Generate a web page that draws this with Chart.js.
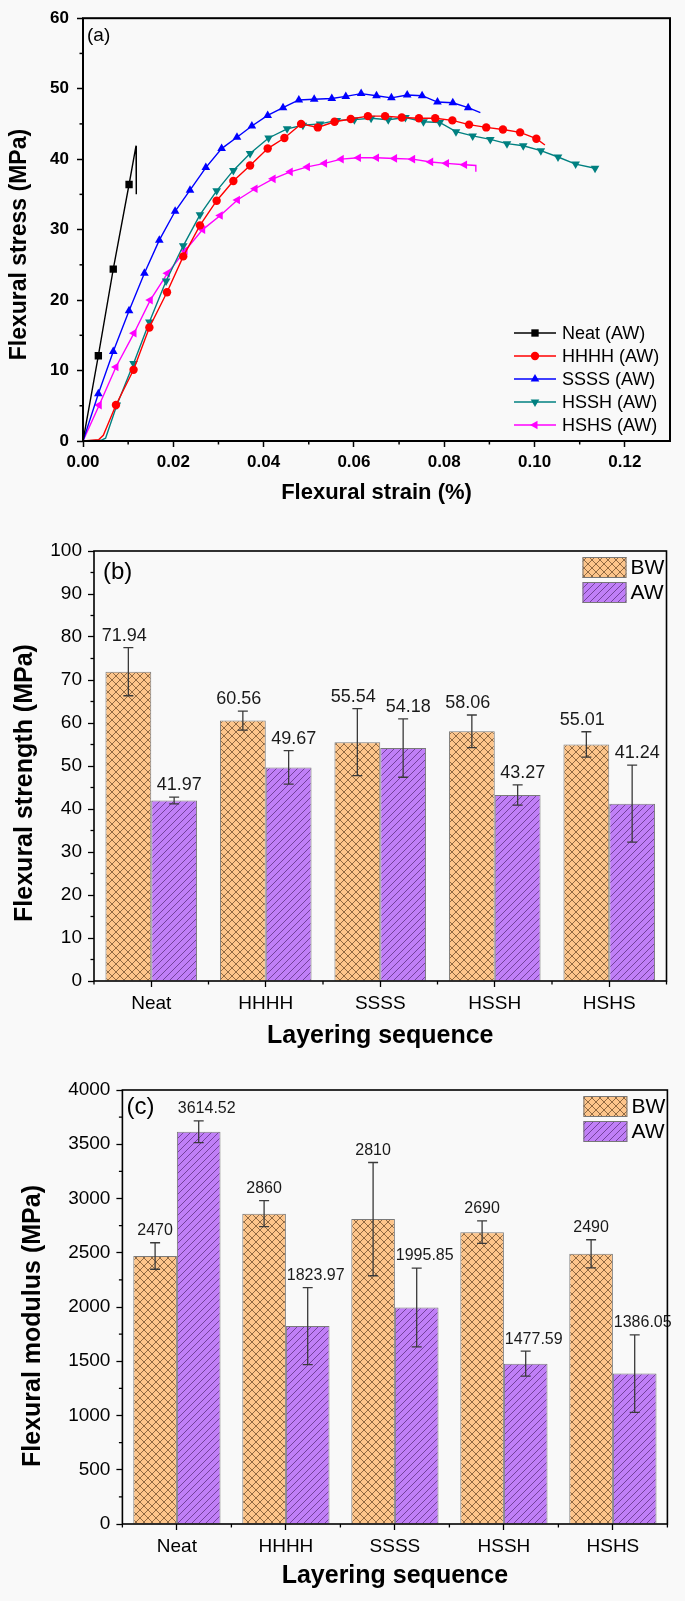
<!DOCTYPE html>
<html><head><meta charset="utf-8">
<script src="https://cdn.jsdelivr.net/npm/chart.js@4.4.0/dist/chart.umd.min.js"></script>
<style>
html,body{margin:0;padding:0;background:#f9f9f9;}
body{width:685px;height:1601px;position:relative;overflow:hidden;}
.wrap{position:absolute;left:0;width:685px;}
canvas{display:block;}
</style></head><body>
<div class="wrap" style="top:0;height:520px"><canvas id="ca"></canvas></div>
<div class="wrap" style="top:520px;height:530px"><canvas id="cb"></canvas></div>
<div class="wrap" style="top:1050px;height:551px"><canvas id="cc"></canvas></div>
<script>
// ---------- data: (a) stress-strain curves ----------
const neatStrain = [0, 0.0034, 0.0067, 0.0102, 0.01175, 0.0118];
const neatStress = [0, 12.1, 24.4, 36.4, 41.9, 35.0];
const hhhhStrain = [0, 0.0035, 0.0045, 0.0073, 0.0112, 0.0147, 0.0186, 0.0222, 0.0259, 0.0296, 0.0333, 0.0370, 0.0409, 0.0446, 0.0483, 0.0520, 0.0557, 0.0593, 0.0631, 0.0669, 0.0706, 0.0744, 0.0780, 0.0818, 0.0855, 0.0893, 0.0930, 0.0968, 0.1004, 0.1023];
const hhhhStress = [0, 0.2, 0.8, 5.1, 10.1, 16.1, 21.1, 26.2, 30.6, 34.1, 36.9, 39.1, 41.5, 43.0, 45.0, 44.5, 45.3, 45.7, 46.1, 46.1, 45.9, 45.8, 45.8, 45.5, 44.9, 44.5, 44.2, 43.8, 42.9, 42.0];
const ssssStrain = [0, 0.0034, 0.0067, 0.0102, 0.0136, 0.0169, 0.0204, 0.0237, 0.0272, 0.0307, 0.0341, 0.0374, 0.0409, 0.0443, 0.0478, 0.0512, 0.0551, 0.0582, 0.0616, 0.0650, 0.0683, 0.0718, 0.0751, 0.0785, 0.0819, 0.0853, 0.0880];
const ssssStress = [0, 6.7, 12.7, 18.5, 23.8, 28.5, 32.6, 35.6, 38.8, 41.5, 43.1, 44.7, 46.2, 47.3, 48.4, 48.5, 48.6, 48.9, 49.3, 49.0, 48.7, 49.1, 49.0, 48.1, 48.0, 47.3, 46.6];
const hsshStrain = [0, 0.0040, 0.0050, 0.0075, 0.0112, 0.0147, 0.0184, 0.0222, 0.0259, 0.0296, 0.0333, 0.0370, 0.0411, 0.0452, 0.0487, 0.0525, 0.0562, 0.0601, 0.0638, 0.0676, 0.0714, 0.0754, 0.0790, 0.0826, 0.0863, 0.0902, 0.0939, 0.0975, 0.1014, 0.1052, 0.1091, 0.1134];
const hsshStress = [0, 0.1, 0.4, 5.1, 11.0, 16.9, 22.7, 27.7, 32.1, 35.5, 38.4, 40.8, 43.0, 44.3, 44.8, 45.0, 45.5, 45.6, 45.8, 45.6, 45.9, 45.3, 45.2, 43.9, 43.3, 42.8, 42.2, 41.9, 41.2, 40.3, 39.3, 38.7];
const hshsStrain = [0, 0.0036, 0.0073, 0.0113, 0.0149, 0.0187, 0.0226, 0.0265, 0.0304, 0.0342, 0.0381, 0.0421, 0.0459, 0.0497, 0.0535, 0.0572, 0.0610, 0.0650, 0.0690, 0.0730, 0.0770, 0.0805, 0.0845, 0.0870, 0.0870];
const hshsStress = [0, 5.1, 10.5, 15.3, 20.0, 23.8, 27.0, 30.0, 32.0, 34.2, 35.8, 37.2, 38.2, 38.9, 39.4, 40.0, 40.2, 40.2, 40.1, 40.0, 39.6, 39.4, 39.2, 39.1, 38.2];
const strainTickValues = [0, 0.02, 0.04, 0.06, 0.08, 0.10, 0.12];
const strainTickLabels = ['0.00', '0.02', '0.04', '0.06', '0.08', '0.10', '0.12'];
const stressTickValues = [0, 10, 20, 30, 40, 50, 60];

// ---------- data: (b) and (c) bars ----------
const layers = ['Neat', 'HHHH', 'SSSS', 'HSSH', 'HSHS'];
const strengthBW = [71.94, 60.56, 55.54, 58.06, 55.01];
const strengthBWErr = [5.6, 2.2, 7.8, 3.8, 2.95];
const strengthAW = [41.97, 49.67, 54.18, 43.27, 41.24];
const strengthAWErr = [0.8, 3.9, 6.8, 2.35, 8.95];
const strengthTickValues = [0, 10, 20, 30, 40, 50, 60, 70, 80, 90, 100];
const modulusBW = [2470, 2860, 2810, 2690, 2490];
const modulusBWErr = [122, 120, 522, 103, 130];
const modulusAW = [3614.52, 1823.97, 1995.85, 1477.59, 1386.05];
const modulusAWErr = [100, 355, 363, 115, 357];
const modulusTickValues = [0, 500, 1000, 1500, 2000, 2500, 3000, 3500, 4000];

// ---------- styling ----------
const FONT = "'Liberation Sans', Arial, Helvetica, sans-serif";
Chart.defaults.font.family = FONT;
Chart.defaults.color = '#000';

function makePattern(bg, line, p, cross) {
  const c = document.createElement('canvas');
  c.width = p; c.height = p;
  const g = c.getContext('2d');
  g.fillStyle = bg; g.fillRect(0, 0, p, p);
  g.strokeStyle = line; g.lineWidth = 0.9;
  g.beginPath();
  g.moveTo(-1, p + 1); g.lineTo(p + 1, -1);
  g.moveTo(-1, 1); g.lineTo(1, -1);
  g.moveTo(p - 1, p + 1); g.lineTo(p + 1, p - 1);
  if (cross) {
    g.moveTo(-1, -1); g.lineTo(p + 1, p + 1);
    g.moveTo(p - 1, -1); g.lineTo(p + 1, 1);
    g.moveTo(-1, p - 1); g.lineTo(1, p + 1);
  }
  g.stroke();
  return g.createPattern(c, 'repeat');
}
const bwPattern = makePattern('#fdc58b', 'rgba(90,60,30,0.75)', 8, true);
const awPattern = makePattern('#c07ff7', 'rgba(70,30,100,0.7)', 7, false);

// ---------- plugins ----------
const framePlugin = {
  id: 'frame',
  afterDraw(chart, args, o) {
    const {ctx, chartArea: a} = chart;
    ctx.save();
    ctx.strokeStyle = '#000'; ctx.lineWidth = o.width || 1.5;
    ctx.strokeRect(a.left, a.top, a.right - a.left, a.bottom - a.top);
    ctx.lineWidth = o.tickWidth || 1.2;
    const ys = chart.scales.y, xs = chart.scales.x;
    (o.yMinor || []).forEach(v => {
      const py = ys.getPixelForValue(v);
      ctx.beginPath(); ctx.moveTo(a.left, py); ctx.lineTo(a.left - 3.5, py); ctx.stroke();
    });
    let xm = o.xMinor || [];
    if (o.categoryMinor) {
      const pxs = [];
      const n = xs.ticks.length;
      for (let i = 0; i <= n; i++) {
        if (i === 0) pxs.push(a.left);
        else if (i === n) pxs.push(a.right);
        else pxs.push((xs.getPixelForValue(i - 1) + xs.getPixelForValue(i)) / 2);
      }
      pxs.forEach(px => { ctx.beginPath(); ctx.moveTo(px, a.bottom); ctx.lineTo(px, a.bottom + 3.5); ctx.stroke(); });
    } else {
      xm.forEach(v => {
        const px = xs.getPixelForValue(v);
        ctx.beginPath(); ctx.moveTo(px, a.bottom); ctx.lineTo(px, a.bottom + 3.5); ctx.stroke();
      });
    }
    if (o.panel) {
      ctx.font = o.panel.font; ctx.fillStyle = '#000';
      ctx.textAlign = 'left'; ctx.textBaseline = 'middle';
      ctx.fillText(o.panel.text, a.left + o.panel.dx, a.top + o.panel.dy);
    }
    if (o.yTitle) {
      ctx.save();
      ctx.translate(o.yTitle.x, (a.top + a.bottom) / 2 + o.yTitle.dy);
      ctx.rotate(-Math.PI / 2);
      ctx.font = o.yTitle.font; ctx.fillStyle = '#000'; ctx.textAlign = 'center'; ctx.textBaseline = 'middle';
      ctx.fillText(o.yTitle.text, 0, 0);
      ctx.restore();
    }
    ctx.restore();
  }
};

const lineLegend = {
  id: 'lineLegend',
  afterDraw(chart, args, o) {
    if (!o.show) return;
    const {ctx} = chart;
    ctx.save();
    chart.data.datasets.forEach((ds, i) => {
      const y = o.y0 + i * o.pitch;
      ctx.strokeStyle = ds.borderColor; ctx.lineWidth = 1.5;
      ctx.beginPath(); ctx.moveTo(o.x0, y); ctx.lineTo(o.x1, y); ctx.stroke();
      ctx.fillStyle = ds.borderColor;
      Chart.helpers.drawPoint(ctx, {pointStyle: ds.pointStyle, rotation: ds.rotation, radius: ds.legendRadius, borderWidth: 0}, (o.x0 + o.x1) / 2, y);
      ctx.fillStyle = '#000'; ctx.font = o.font; ctx.textAlign = 'left'; ctx.textBaseline = 'middle';
      ctx.fillText(ds.label, o.x1 + 6, y + 1);
    });
    ctx.restore();
  }
};

const barExtras = {
  id: 'barExtras',
  afterDatasetsDraw(chart, args, o) {
    if (!o.show) return;
    const {ctx, chartArea: a} = chart;
    const ys = chart.scales.y;
    ctx.save();
    chart.data.datasets.forEach((ds, di) => {
      const meta = chart.getDatasetMeta(di);
      meta.data.forEach((bar, i) => {
        const v = ds.data[i], e = ds.errors[i];
        const top = ys.getPixelForValue(v + e), bot = ys.getPixelForValue(v - e);
        ctx.strokeStyle = '#3a3a3a'; ctx.lineWidth = 1.3;
        ctx.beginPath();
        ctx.moveTo(bar.x, top); ctx.lineTo(bar.x, bot);
        ctx.moveTo(bar.x - 5, top); ctx.lineTo(bar.x + 5, top);
        ctx.moveTo(bar.x - 5, bot); ctx.lineTo(bar.x + 5, bot);
        ctx.stroke();
        ctx.fillStyle = '#1a1a1a'; ctx.font = o.labelFont;
        ctx.textAlign = 'center'; ctx.textBaseline = 'middle';
        ctx.fillText(String(v), bar.x + o.labelDx[di], top - o.gap);
      });
    });
    chart.data.datasets.forEach((ds, di) => {
      const bx = a.right - o.legDx, by = a.top + o.legDy + di * 25;
      ctx.fillStyle = ds.backgroundColor;
      ctx.fillRect(bx, by, 44, 21);
      ctx.strokeStyle = '#777'; ctx.lineWidth = 1;
      ctx.strokeRect(bx + 0.5, by + 0.5, 43, 20);
      ctx.fillStyle = '#000'; ctx.font = o.legFont; ctx.textAlign = 'left'; ctx.textBaseline = 'middle';
      ctx.fillText(ds.label, bx + 48, by + 11);
    });
    ctx.restore();
  }
};

Chart.register(framePlugin, lineLegend, barExtras);

function pts(xs, ys) { return xs.map((x, i) => ({x: x, y: ys[i]})); }

const seriesA = [
  {label: 'Neat (AW)', xs: neatStrain, ys: neatStress, color: '#000000', style: 'rect', rot: 0, r: 5.2, m0: 1, m1: 3},
  {label: 'HHHH (AW)', xs: hhhhStrain, ys: hhhhStress, color: '#ff0000', style: 'circle', rot: 0, r: 4.2, m0: 3, m1: 28},
  {label: 'SSSS (AW)', xs: ssssStrain, ys: ssssStress, color: '#0000ff', style: 'triangle', rot: 0, r: 5, m0: 1, m1: 25},
  {label: 'HSSH (AW)', xs: hsshStrain, ys: hsshStress, color: '#008080', style: 'triangle', rot: 180, r: 5, m0: 3, m1: 31},
  {label: 'HSHS (AW)', xs: hshsStrain, ys: hshsStress, color: '#ff00ff', style: 'triangle', rot: 270, r: 5, m0: 1, m1: 22}
];

new Chart(document.getElementById('ca'), {
  type: 'scatter',
  data: {
    datasets: seriesA.map(s => ({
      label: s.label,
      data: pts(s.xs, s.ys),
      showLine: true,
      borderColor: s.color,
      backgroundColor: s.color,
      borderWidth: 1.4,
      pointStyle: s.style,
      rotation: s.rot,
      legendRadius: s.r,
      pointRadius: c => (c.dataIndex >= s.m0 && c.dataIndex <= s.m1) ? s.r : 0,
      pointBorderWidth: 0,
      pointBackgroundColor: s.color,
      tension: 0
    }))
  },
  options: {
    responsive: true, maintainAspectRatio: false, animation: false, events: [],
    layout: {padding: {top: 15, right: 15, left: 0, bottom: 0}},
    plugins: {
      legend: {display: false}, tooltip: {enabled: false},
      frame: {width: 2, tickWidth: 1.5,
        yMinor: [5, 15, 25, 35, 45, 55],
        xMinor: [0.01, 0.03, 0.05, 0.07, 0.09, 0.11],
        panel: {text: '(a)', font: '19px ' + FONT, dx: 4, dy: 18},
        yTitle: {text: 'Flexural stress (MPa)', font: 'bold 23px ' + FONT, x: 20, dy: 15}},
      lineLegend: {show: true, x0: 514, x1: 556, y0: 333, pitch: 23, font: '18px ' + FONT},
      barExtras: {show: false}
    },
    scales: {
      x: {
        type: 'linear', min: 0, max: 0.13,
        afterFit: s => { s.height = 79; },
        afterBuildTicks: s => { s.ticks = strainTickValues.map(v => ({value: v})); },
        ticks: {callback: (v, i) => strainTickLabels[i], font: {size: 17, weight: 'bold'}, padding: 5, maxRotation: 0, autoSkip: false},
        grid: {drawOnChartArea: false, tickLength: 6, tickColor: '#000', tickWidth: 1.5},
        border: {display: false},
        title: {display: true, text: 'Flexural strain (%)', font: {size: 22, weight: 'bold', lineHeight: 1}, padding: {top: 0, bottom: 16}}
      },
      y: {
        type: 'linear', min: 0, max: 60,
        afterFit: s => { s.width = 83; },
        afterBuildTicks: s => { s.ticks = stressTickValues.map(v => ({value: v})); },
        ticks: {callback: v => String(v), font: {size: 17, weight: 'bold'}, padding: 8},
        grid: {drawOnChartArea: false, tickLength: 6, tickColor: '#000', tickWidth: 1.5},
        border: {display: false}
      }
    }
  }
});

function barChart(id, bw, bwErr, aw, awErr, tickVals, yMax, cfg) {
  return new Chart(document.getElementById(id), {
    type: 'bar',
    data: {
      labels: layers,
      datasets: [
        {label: 'BW', data: bw, errors: bwErr, backgroundColor: bwPattern, borderColor: '#7a7a7a', borderWidth: 1},
        {label: 'AW', data: aw, errors: awErr, backgroundColor: awPattern, borderColor: '#7a7a7a', borderWidth: 1}
      ]
    },
    options: {
      responsive: true, maintainAspectRatio: false, animation: false, events: [],
      layout: {padding: {top: cfg.padTop, right: cfg.padRight, left: 0, bottom: 0}},
      datasets: {bar: {categoryPercentage: 0.8, barPercentage: 1.0}},
      plugins: {
        legend: {display: false}, tooltip: {enabled: false},
        frame: {width: 1.6, tickWidth: 1.3, yMinor: cfg.yMinor, categoryMinor: true,
          panel: {text: cfg.panel, font: '24px ' + FONT, dx: cfg.panelDx, dy: cfg.panelDy},
          yTitle: {text: cfg.yTitle, font: 'bold 25px ' + FONT, x: cfg.yTitleX, dy: cfg.yTitleDy}},
        lineLegend: {show: false},
        barExtras: {show: true, gap: 12, labelFont: cfg.labelFont, labelDx: cfg.labelDx, legDx: 84, legDy: 6, legFont: '21px ' + FONT}
      },
      scales: {
        x: {
          afterFit: s => { s.height = cfg.xHeight; },
          ticks: {font: {size: 19}, padding: 5},
          grid: {offset: false, drawOnChartArea: false, tickLength: 6, tickColor: '#000', tickWidth: 1.3},
          border: {display: false},
          title: {display: true, text: 'Layering sequence', font: {size: 25, weight: 'bold', lineHeight: 1}, padding: {top: 0, bottom: cfg.xTitlePad}}
        },
        y: {
          min: 0, max: yMax,
          afterFit: s => { s.width = cfg.yWidth; },
          afterBuildTicks: s => { s.ticks = tickVals.map(v => ({value: v})); },
          ticks: {callback: v => String(v), font: {size: 19}, padding: 6},
          grid: {drawOnChartArea: false, tickLength: 6, tickColor: '#000', tickWidth: 1.3},
          border: {display: false}
        }
      }
    }
  });
}

const minorB = []; for (let v = 5; v < 100; v += 10) minorB.push(v);
const minorC = []; for (let v = 250; v < 4000; v += 500) minorC.push(v);

barChart('cb', strengthBW, strengthBWErr, strengthAW, strengthAWErr, strengthTickValues, 100, {
  padTop: 31, padRight: 18.5, xHeight: 69, yWidth: 94, yMinor: minorB,
  panel: '(b)', panelDx: 9, panelDy: 21, yTitle: 'Flexural strength (MPa)', yTitleX: 25, yTitleDy: 17,
  labelFont: '18px ' + FONT, labelDx: [-4, 5], xTitlePad: 1.5
});
barChart('cc', modulusBW, modulusBWErr, modulusAW, modulusAWErr, modulusTickValues, 4000, {
  padTop: 40, padRight: 17.6, xHeight: 77, yWidth: 122.4, yMinor: minorC,
  panel: '(c)', panelDx: 4, panelDy: 17, yTitle: 'Flexural modulus (MPa)', yTitleX: 33, yTitleDy: 19,
  labelFont: '16px ' + FONT, labelDx: [0, 8], xTitlePad: 12.5
});
</script>
</body></html>
